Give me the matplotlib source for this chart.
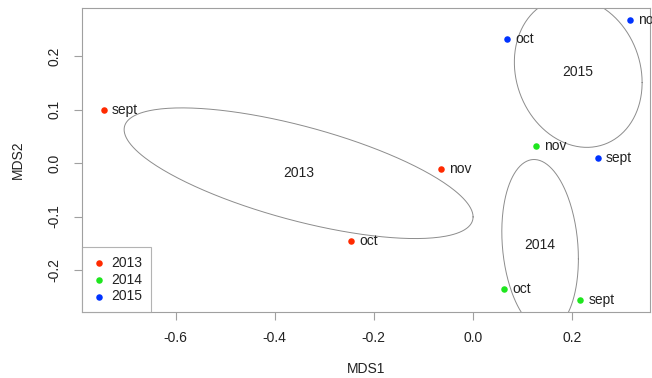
import numpy as np
import matplotlib.pyplot as plt

plt.rcParams['font.family'] = ['Liberation Sans', 'DejaVu Sans']

# MDS scores per sample
years = ["2013", "2014", "2015"]
colors = ["#ff2a00", "#1ee61e", "#0033ff"]
months = {
    "2013": ["sept", "nov", "oct"],
    "2014": ["nov", "oct", "sept"],
    "2015": ["oct", "nov", "sept"],
}
mds1 = {
    "2013": [-0.745, -0.065, -0.245],
    "2014": [0.128, 0.063, 0.217],
    "2015": [0.069, 0.318, 0.252],
}
mds2 = {
    "2013": [0.099, -0.011, -0.145],
    "2014": [0.031, -0.235, -0.257],
    "2015": [0.232, 0.268, 0.009],
}

fig = plt.figure(figsize=(6.52, 3.78), dpi=100)
ax = fig.add_axes([0.1258, 0.1754, 0.8712, 0.8034])

txt = "#222222"
grey = "#a0a0a0"

for yr, col in zip(years, colors):
    x = np.array(mds1[yr])
    y = np.array(mds2[yr])
    ax.scatter(x, y, s=22, color=col, zorder=3, label=yr, linewidths=0)
    for xi, yi, m in zip(x, y, months[yr]):
        ax.annotate(m, (xi, yi), xytext=(8, 0), textcoords="offset pixels",
                    va="center", ha="left", fontsize=10, color=txt)
    # standard deviation ellipse (like vegan::ordiellipse, kind="sd")
    cx, cy = x.mean(), y.mean()
    cov = np.cov(x, y)
    L = np.linalg.cholesky(cov)
    t = np.linspace(0, 2 * np.pi, 300)
    circ = np.vstack([np.cos(t), np.sin(t)])
    ell = L @ circ
    ax.plot(cx + ell[0], cy + ell[1], color="#8c8c8c", lw=0.7, zorder=2)
    ax.text(cx, cy, yr, ha="center", va="center", fontsize=10, color=txt)

ax.set_xlim(-0.789, 0.358)
ax.set_ylim(-0.278, 0.290)
ax.set_xticks([-0.6, -0.4, -0.2, 0.0, 0.2])
ax.set_xticklabels(["-0.6", "-0.4", "-0.2", "0.0", "0.2"])
ax.set_yticks([-0.2, -0.1, 0.0, 0.1, 0.2])
ax.set_yticklabels(["-0.2", "-0.1", "0.0", "0.1", "0.2"], rotation=90, va="center")

for s in ax.spines.values():
    s.set_color(grey)
ax.tick_params(colors=grey, labelcolor=txt, labelsize=10, length=6, width=0.8)
ax.tick_params(axis="x", pad=8)
ax.tick_params(axis="y", pad=9)

ax.set_xlabel("MDS1", fontsize=10, color=txt, labelpad=12)
ax.set_ylabel("MDS2", fontsize=10, color=txt, labelpad=16)

leg = ax.legend(loc="lower left", fontsize=10, frameon=True, fancybox=False,
                borderaxespad=0, handletextpad=0.3, labelspacing=0.2,
                markerscale=1.0, borderpad=0.6, handlelength=1.2)
leg.get_frame().set_edgecolor(grey)
leg.get_frame().set_linewidth(0.8)
for t in leg.get_texts():
    t.set_color(txt)

fig.savefig("out.png", dpi=100)
